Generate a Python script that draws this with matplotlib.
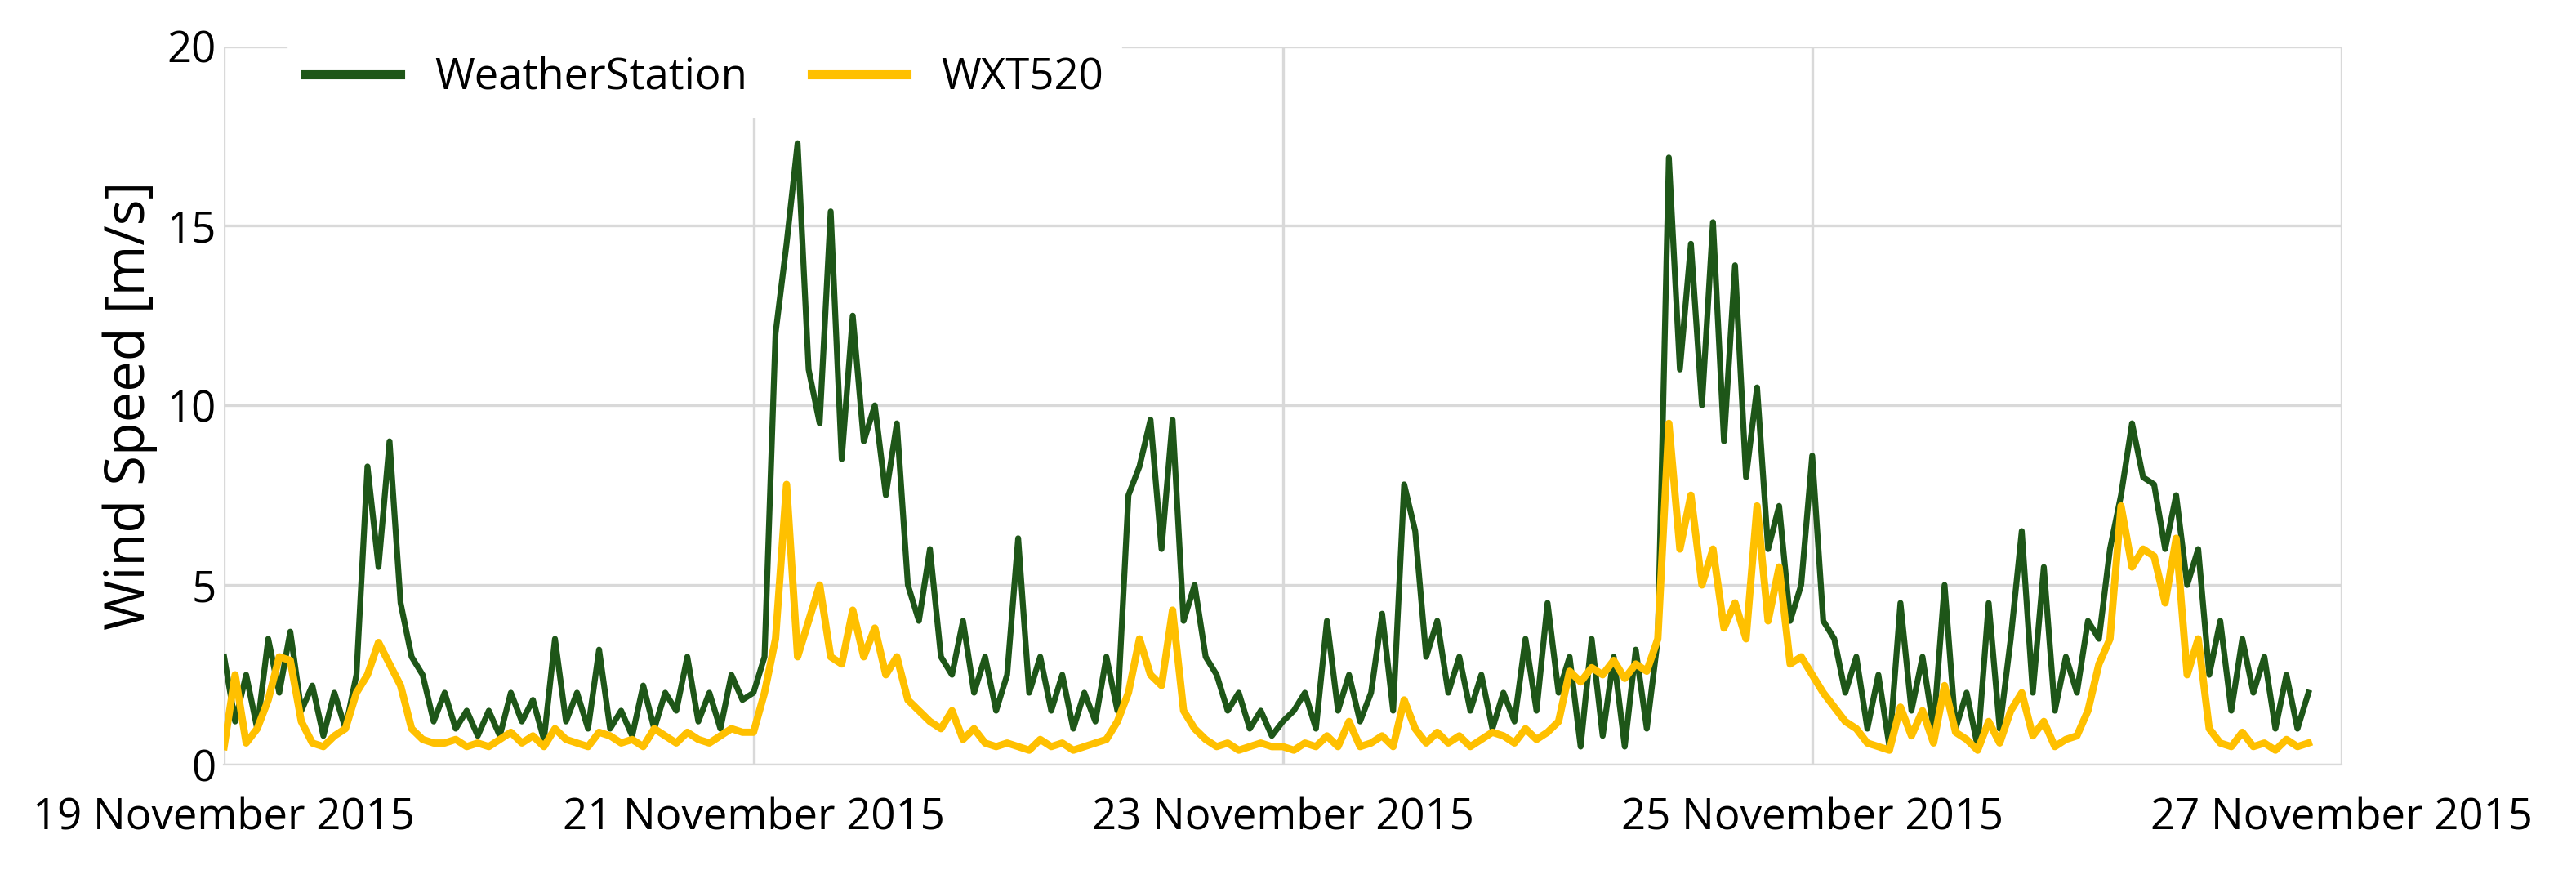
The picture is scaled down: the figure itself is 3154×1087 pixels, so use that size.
import matplotlib
matplotlib.use("Agg")
import matplotlib.pyplot as plt
import numpy as np

days = ["19 November 2015", "21 November 2015", "23 November 2015", "25 November 2015", "27 November 2015"]

ws = [3.0,1.2,2.5,1.0,3.5,2.0,3.7,1.5,2.2,0.8,2.0,1.0,2.5,8.3,5.5,9.0,4.5,3.0,2.5,1.2,2.0,1.0,1.5,0.8,
      1.5,0.8,2.0,1.2,1.8,0.7,3.5,1.2,2.0,1.0,3.2,1.0,1.5,0.8,2.2,1.0,2.0,1.5,3.0,1.2,2.0,1.0,2.5,1.8,
      2.0,3.0,12.0,14.5,17.3,11.0,9.5,15.4,8.5,12.5,9.0,10.0,7.5,9.5,5.0,4.0,6.0,3.0,2.5,4.0,2.0,3.0,1.5,2.5,
      6.3,2.0,3.0,1.5,2.5,1.0,2.0,1.2,3.0,1.5,7.5,8.3,9.6,6.0,9.6,4.0,5.0,3.0,2.5,1.5,2.0,1.0,1.5,0.8,
      1.2,1.5,2.0,1.0,4.0,1.5,2.5,1.2,2.0,4.2,1.5,7.8,6.5,3.0,4.0,2.0,3.0,1.5,2.5,1.0,2.0,1.2,3.5,1.5,
      4.5,2.0,3.0,0.5,3.5,0.8,3.0,0.5,3.2,1.0,3.5,16.9,11.0,14.5,10.0,15.1,9.0,13.9,8.0,10.5,6.0,7.2,4.0,5.0,
      8.6,4.0,3.5,2.0,3.0,1.0,2.5,0.5,4.5,1.5,3.0,1.0,5.0,1.0,2.0,0.5,4.5,1.0,3.5,6.5,2.0,5.5,1.5,3.0,
      2.0,4.0,3.5,6.0,7.5,9.5,8.0,7.8,6.0,7.5,5.0,6.0,2.5,4.0,1.5,3.5,2.0,3.0,1.0,2.5,1.0,2.0]

wxt = [0.5,2.5,0.6,1.0,1.8,3.0,2.9,1.2,0.6,0.5,0.8,1.0,2.0,2.5,3.4,2.8,2.2,1.0,0.7,0.6,0.6,0.7,0.5,0.6,
       0.5,0.7,0.9,0.6,0.8,0.5,1.0,0.7,0.6,0.5,0.9,0.8,0.6,0.7,0.5,1.0,0.8,0.6,0.9,0.7,0.6,0.8,1.0,0.9,
       0.9,2.0,3.5,7.8,3.0,4.0,5.0,3.0,2.8,4.3,3.0,3.8,2.5,3.0,1.8,1.5,1.2,1.0,1.5,0.7,1.0,0.6,0.5,0.6,
       0.5,0.4,0.7,0.5,0.6,0.4,0.5,0.6,0.7,1.2,2.0,3.5,2.5,2.2,4.3,1.5,1.0,0.7,0.5,0.6,0.4,0.5,0.6,0.5,
       0.5,0.4,0.6,0.5,0.8,0.5,1.2,0.5,0.6,0.8,0.5,1.8,1.0,0.6,0.9,0.6,0.8,0.5,0.7,0.9,0.8,0.6,1.0,0.7,
       0.9,1.2,2.6,2.3,2.7,2.5,2.9,2.4,2.8,2.6,3.5,9.5,6.0,7.5,5.0,6.0,3.8,4.5,3.5,7.2,4.0,5.5,2.8,3.0,
       2.5,2.0,1.6,1.2,1.0,0.6,0.5,0.4,1.6,0.8,1.5,0.6,2.2,0.9,0.7,0.4,1.2,0.6,1.5,2.0,0.8,1.2,0.5,0.7,
       0.8,1.5,2.8,3.5,7.2,5.5,6.0,5.8,4.5,6.3,2.5,3.5,1.0,0.6,0.5,0.9,0.5,0.6,0.4,0.7,0.5,0.6]

t_ws = np.arange(len(ws)) / 24.0
t_wxt = np.arange(len(wxt)) / 24.0

plt.rcParams['font.family'] = ['Open Sans', 'DejaVu Sans']
fig = plt.figure(figsize=(15.77, 5.435), dpi=200)
ax = fig.add_axes([0.087, 0.139, 0.822, 0.809])
ax.plot(t_ws, ws, color="#1E5618", lw=2.6, label="WeatherStation")
ax.plot(t_wxt, wxt, color="#FFC000", lw=3.2, label="WXT520")
ax.set_xlim(0, 8)
ax.set_ylim(0, 20)
ax.set_xticks([0, 2, 4, 6, 8])
ax.set_xticklabels(days, fontsize=19)
ax.set_yticks([0, 5, 10, 15, 20])
ax.tick_params(axis='y', labelsize=19, length=0)
ax.tick_params(axis='x', length=0, pad=14)
ax.grid(True, color="#D9D9D9", lw=1.2)
ax.set_axisbelow(True)
for s in ax.spines.values():
    s.set_visible(False)
ax.spines['bottom'].set_visible(True)
ax.spines['bottom'].set_color("#D9D9D9")
ax.set_ylabel("Wind Speed [m/s]", fontsize=24)
leg = ax.legend(loc='upper left', bbox_to_anchor=(0.02, 1.04), ncol=2, fontsize=19,
                frameon=True, edgecolor='white', facecolor='white', framealpha=1,
                handlelength=2.2, columnspacing=1.5)
for h in leg.get_lines():
    h.set_linewidth(4)
fig.savefig("out.png", dpi=200)
